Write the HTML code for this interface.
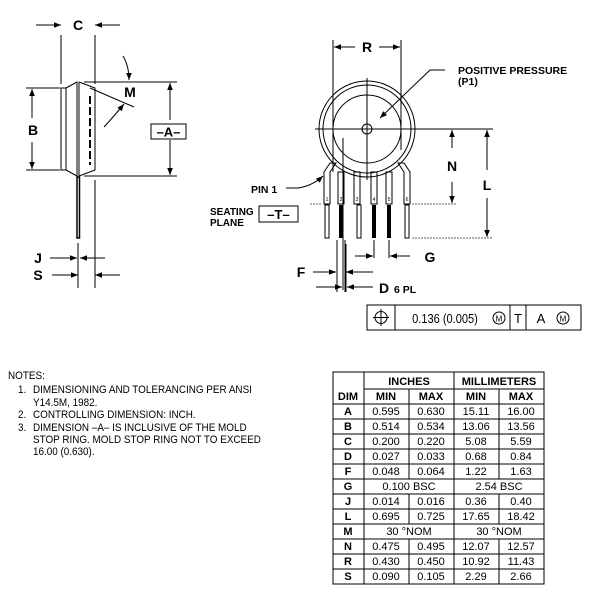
<!DOCTYPE html>
<html><head><meta charset="utf-8"><style>html,body{margin:0;padding:0;background:#fff}svg{display:block}</style></head><body>
<svg width="600" height="598" viewBox="0 0 600 598" xmlns="http://www.w3.org/2000/svg" font-family="Liberation Sans, Arial, sans-serif">
<defs>
<marker id="ar" viewBox="0 0 10 10" refX="10" refY="5" markerWidth="9" markerHeight="7" orient="auto-start-reverse" markerUnits="userSpaceOnUse"><path d="M0,1 L10,5 L0,9 Z" fill="#000"/></marker>
</defs>
<g stroke="#000" fill="none" stroke-width="1">
<line x1="61" y1="35" x2="61" y2="84"/>
<line x1="95" y1="35" x2="95" y2="84"/>
<line x1="36" y1="25" x2="61" y2="25" marker-end="url(#ar)"/>
<line x1="120" y1="25" x2="95" y2="25" marker-end="url(#ar)"/>
<rect x="61" y="88" width="5" height="82"/>
<path d="M66,88 L77,82 L77,176 L66,170"/>
<line x1="77" y1="82" x2="77" y2="176"/>
<line x1="79" y1="82" x2="79" y2="176"/>
<path d="M79,82 L95,88 L95,170 L79,176"/>
<line x1="90" y1="96" x2="90" y2="165" stroke-dasharray="8,3" stroke-width="2"/>
<line x1="26" y1="88" x2="60" y2="88"/>
<line x1="26" y1="170" x2="60" y2="170"/>
<line x1="32" y1="118" x2="32" y2="89" marker-end="url(#ar)"/>
<line x1="32" y1="142" x2="32" y2="169" marker-end="url(#ar)"/>
<line x1="84" y1="82" x2="177" y2="82"/>
<line x1="84" y1="176" x2="177" y2="176"/>
<line x1="170" y1="120" x2="170" y2="83" marker-end="url(#ar)"/>
<line x1="170" y1="140" x2="170" y2="175" marker-end="url(#ar)"/>
<rect x="151" y="124" width="35" height="15"/>
<line x1="90" y1="88" x2="134" y2="107"/>
<path d="M123,56 Q129,66 129,80" marker-end="url(#ar)"/>
<path d="M104,127 Q115,115 124,104" marker-end="url(#ar)"/>
<rect x="77" y="177" width="2.5" height="61" stroke-width="1.5"/>
<line x1="78" y1="243" x2="78" y2="288"/>
<line x1="95" y1="180" x2="95" y2="288"/>
<line x1="50" y1="258" x2="77" y2="258" marker-end="url(#ar)"/>
<line x1="105" y1="258" x2="80" y2="258" marker-end="url(#ar)"/>
<line x1="52" y1="275" x2="78" y2="275" marker-end="url(#ar)"/>
<line x1="120" y1="275" x2="95" y2="275" marker-end="url(#ar)"/>

<line x1="333" y1="40" x2="333" y2="172"/>
<line x1="401" y1="40" x2="401" y2="150"/>
<line x1="355" y1="47" x2="334" y2="47" marker-end="url(#ar)"/>
<line x1="379" y1="47" x2="400" y2="47" marker-end="url(#ar)"/>
<circle cx="367" cy="129" r="48"/>
<circle cx="367" cy="129" r="44"/>
<circle cx="367" cy="129" r="34"/>
<circle cx="367" cy="129" r="5"/>
<line x1="315" y1="129" x2="493" y2="129"/>
<line x1="367" y1="78" x2="367" y2="180"/>
<line x1="343" y1="138" x2="343" y2="290"/>
<path d="M445,70 L430,70 L380,118" marker-end="url(#ar)"/>
<path d="M324,204 L324,172 L330,163 L336,163 L330,172 L330,204 Z"/>
<path d="M410,204 L410,172 L404,163 L398,163 L404,172 L404,204 Z"/>
<rect x="338" y="172" width="6" height="32"/>
<rect x="354" y="172" width="6" height="32"/>
<rect x="371" y="172" width="6" height="32"/>
<rect x="386" y="172" width="6" height="32"/>
<rect x="325" y="205" width="4" height="33"/>
<rect x="357" y="205" width="4" height="33"/>
<rect x="405" y="205" width="4" height="33"/>
</g>
<g fill="#000">
<rect x="339" y="205" width="4" height="33"/>
<rect x="372" y="205" width="4" height="33"/>
<rect x="387" y="205" width="4" height="33"/>
</g>
<g stroke="#000" fill="none" stroke-width="1">
<line x1="310" y1="204" x2="322" y2="204" stroke="#666" stroke-dasharray="2,1"/>
<line x1="412" y1="204" x2="457" y2="204" stroke="#666" stroke-dasharray="2,1"/>
<line x1="412" y1="238" x2="493" y2="238" stroke="#666" stroke-dasharray="2,1"/>
<line x1="452" y1="148" x2="452" y2="130" marker-end="url(#ar)"/>
<line x1="452" y1="182" x2="452" y2="203" marker-end="url(#ar)"/>
<line x1="487" y1="170" x2="487" y2="130" marker-end="url(#ar)"/>
<line x1="487" y1="198" x2="487" y2="237" marker-end="url(#ar)"/>
<path d="M286,188 L298,188 Q312,186 323,176" marker-end="url(#ar)"/>
<rect x="259" y="206" width="39" height="16"/>
<line x1="374" y1="240" x2="374" y2="258"/>
<line x1="389" y1="240" x2="389" y2="258"/>
<line x1="355" y1="256" x2="373" y2="256" marker-end="url(#ar)"/>
<line x1="410" y1="256" x2="390" y2="256" marker-end="url(#ar)"/>
<line x1="337" y1="240" x2="337" y2="292"/>
<line x1="345" y1="240" x2="345" y2="292"/>
<line x1="346" y1="244" x2="346" y2="292"/>
<line x1="313" y1="272" x2="336" y2="272" marker-end="url(#ar)"/>
<line x1="373" y1="272" x2="346" y2="272" marker-end="url(#ar)"/>
<line x1="316" y1="287" x2="342" y2="287" marker-end="url(#ar)"/>
<line x1="373" y1="287" x2="347" y2="287" marker-end="url(#ar)"/>
<rect x="367" y="305" width="214" height="25"/>
<line x1="395" y1="305" x2="395" y2="330"/>
<line x1="510" y1="305" x2="510" y2="330"/>
<line x1="526" y1="305" x2="526" y2="330"/>
<circle cx="381" cy="317.5" r="6"/>
<line x1="373" y1="317.5" x2="389" y2="317.5"/>
<line x1="381" y1="309" x2="381" y2="326"/>
<circle cx="499" cy="318" r="6"/>
<circle cx="563" cy="318" r="6"/>
</g>
<g font-weight="bold" font-size="14" text-anchor="middle">
<text x="78" y="30">C</text>
<text x="33" y="135">B</text>
<text x="168.5" y="136.5" font-size="13">–A–</text>
<text x="130" y="97">M</text>
<text x="38" y="263">J</text>
<text x="38" y="280">S</text>
<text x="367" y="52">R</text>
<text x="452" y="171">N</text>
<text x="487" y="190">L</text>
<text x="278.5" y="219" font-size="13">–T–</text>
<text x="430" y="262">G</text>
<text x="301" y="277">F</text>
<text x="384" y="293">D</text>
</g>
<g font-weight="bold" font-size="10.5">
<text x="458" y="74">POSITIVE PRESSURE</text>
<text x="458" y="85">(P1)</text>
<text x="251" y="193">PIN 1</text>
<text x="210" y="215" font-size="10">SEATING</text>
<text x="210" y="226" font-size="10">PLANE</text>
<text x="394" y="293">6 PL</text>
</g>
<g font-size="5" text-anchor="middle">
<text x="327" y="201">1</text><text x="341" y="201">2</text><text x="357" y="201">3</text><text x="374" y="201">4</text><text x="389" y="201">5</text><text x="407" y="201">6</text>
</g>
<g font-size="13" text-anchor="middle">
<text x="445" y="323" transform="translate(445,0) scale(0.85,1) translate(-445,0)">0.136 (0.005)</text>
<text x="518" y="323">T</text>
<text x="541" y="323">A</text>
<text x="499" y="321.5" font-size="8">M</text>
<text x="563" y="321.5" font-size="8">M</text>
</g>
<g font-size="11" transform="scale(0.9,1)">
<text x="8.9" y="379">NOTES:</text>
<text x="20" y="393">1.</text><text x="36.7" y="393">DIMENSIONING AND TOLERANCING PER ANSI</text>
<text x="36.7" y="406">Y14.5M, 1982.</text>
<text x="20" y="418">2.</text><text x="36.7" y="418">CONTROLLING DIMENSION: INCH.</text>
<text x="20" y="431">3.</text><text x="36.7" y="431">DIMENSION –A– IS INCLUSIVE OF THE MOLD</text>
<text x="36.7" y="443">STOP RING.  MOLD STOP RING NOT TO EXCEED</text>
<text x="36.7" y="455">16.00 (0.630).</text>
</g>
<g stroke="#000" fill="none" stroke-width="1">
<rect x="333" y="372" width="211" height="212"/>
<line x1="364" y1="372" x2="364" y2="584"/>
<line x1="454" y1="372" x2="454" y2="584"/>
<line x1="364" y1="389" x2="544" y2="389"/>
<line x1="333" y1="404" x2="544" y2="404"/>
<line x1="409" y1="389" x2="409" y2="479"/>
<line x1="409" y1="494" x2="409" y2="524"/>
<line x1="409" y1="539" x2="409" y2="584"/>
<line x1="499" y1="389" x2="499" y2="479"/>
<line x1="499" y1="494" x2="499" y2="524"/>
<line x1="499" y1="539" x2="499" y2="584"/>
<line x1="333" y1="419" x2="544" y2="419"/><line x1="333" y1="434" x2="544" y2="434"/>
<line x1="333" y1="449" x2="544" y2="449"/><line x1="333" y1="464" x2="544" y2="464"/>
<line x1="333" y1="479" x2="544" y2="479"/><line x1="333" y1="494" x2="544" y2="494"/>
<line x1="333" y1="509" x2="544" y2="509"/><line x1="333" y1="524" x2="544" y2="524"/>
<line x1="333" y1="539" x2="544" y2="539"/><line x1="333" y1="554" x2="544" y2="554"/>
<line x1="333" y1="569" x2="544" y2="569"/>
</g>
<g font-size="11" text-anchor="middle">
<g font-weight="bold"><text x="409" y="385">INCHES</text><text x="499" y="385">MILLIMETERS</text>
<text x="348" y="400">DIM</text><text x="386" y="400">MIN</text><text x="431" y="400">MAX</text><text x="476" y="400">MIN</text><text x="521" y="400">MAX</text>
<text x="348" y="415">A</text><text x="348" y="430">B</text><text x="348" y="445">C</text><text x="348" y="460">D</text><text x="348" y="475">F</text><text x="348" y="490">G</text><text x="348" y="505">J</text><text x="348" y="520">L</text><text x="348" y="535">M</text><text x="348" y="550">N</text><text x="348" y="565">R</text><text x="348" y="580">S</text></g>
<text x="386" y="415">0.595</text><text x="431" y="415">0.630</text><text x="476" y="415">15.11</text><text x="521" y="415">16.00</text>
<text x="386" y="430">0.514</text><text x="431" y="430">0.534</text><text x="476" y="430">13.06</text><text x="521" y="430">13.56</text>
<text x="386" y="445">0.200</text><text x="431" y="445">0.220</text><text x="476" y="445">5.08</text><text x="521" y="445">5.59</text>
<text x="386" y="460">0.027</text><text x="431" y="460">0.033</text><text x="476" y="460">0.68</text><text x="521" y="460">0.84</text>
<text x="386" y="475">0.048</text><text x="431" y="475">0.064</text><text x="476" y="475">1.22</text><text x="521" y="475">1.63</text>
<text x="409" y="490">0.100 BSC</text><text x="499" y="490">2.54 BSC</text>
<text x="386" y="505">0.014</text><text x="431" y="505">0.016</text><text x="476" y="505">0.36</text><text x="521" y="505">0.40</text>
<text x="386" y="520">0.695</text><text x="431" y="520">0.725</text><text x="476" y="520">17.65</text><text x="521" y="520">18.42</text>
<text x="409" y="535">30 °NOM</text><text x="499" y="535">30 °NOM</text>
<text x="386" y="550">0.475</text><text x="431" y="550">0.495</text><text x="476" y="550">12.07</text><text x="521" y="550">12.57</text>
<text x="386" y="565">0.430</text><text x="431" y="565">0.450</text><text x="476" y="565">10.92</text><text x="521" y="565">11.43</text>
<text x="386" y="580">0.090</text><text x="431" y="580">0.105</text><text x="476" y="580">2.29</text><text x="521" y="580">2.66</text>
</g>
</svg>
</body></html>
